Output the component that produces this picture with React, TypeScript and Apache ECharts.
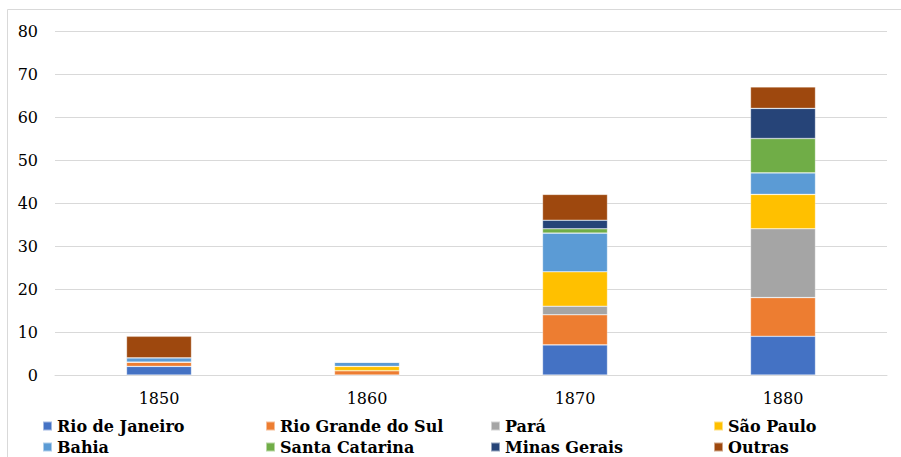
import React, { useEffect, useRef } from "react";
import * as echarts from "echarts";

const categories = ["1850", "1860", "1870", "1880"];
const seriesNames = [
  "Rio de Janeiro",
  "Rio Grande do Sul",
  "Pará",
  "São Paulo",
  "Bahia",
  "Santa Catarina",
  "Minas Gerais",
  "Outras",
];
const rioDeJaneiro = [2, 0, 7, 9];
const rioGrandeDoSul = [1, 1, 7, 9];
const para = [0, 0, 2, 16];
const saoPaulo = [0, 1, 8, 8];
const bahia = [1, 1, 9, 5];
const santaCatarina = [0, 0, 1, 8];
const minasGerais = [0, 0, 2, 7];
const outras = [5, 0, 6, 5];
const yTicks = [0, 10, 20, 30, 40, 50, 60, 70, 80];

const colors = ["#4472C4", "#ED7D31", "#A5A5A5", "#FFC000", "#5B9BD5", "#70AD47", "#264478", "#9E480E"];
const allData = [rioDeJaneiro, rioGrandeDoSul, para, saoPaulo, bahia, santaCatarina, minasGerais, outras];

const FONT = "DejaVu Serif";

export default function App() {
  const ref = useRef<HTMLDivElement>(null);
  useEffect(() => {
    if (!ref.current) return;
    const chart = echarts.init(ref.current, null, { renderer: "svg" });
    const legendCols = [42, 265, 490, 713];
    const legendRows = [416, 437];
    const legends = seriesNames.map((name, i) => ({
      data: [name],
      left: legendCols[i % 4],
      top: legendRows[Math.floor(i / 4)],
      padding: 0,
      icon: "rect",
      itemWidth: 9,
      itemHeight: 9,
      itemGap: 0,
      selectedMode: false,
      textStyle: {
        fontFamily: FONT,
        fontWeight: "bold",
        fontSize: 16,
        color: "#000",
        lineHeight: 20,
      },
    }));
    chart.setOption({
      animation: false,
      color: colors,
      textStyle: { fontFamily: FONT },
      grid: { left: 55, right: 14, top: 31, bottom: 82, containLabel: false },
      legend: legends,
      graphic: [
        {
          type: "rect",
          shape: { x: 7.5, y: 9.5, width: 1000, height: 1000 },
          style: { fill: "none", stroke: "#d9d9d9", lineWidth: 1 },
          silent: true,
        },
      ],
      xAxis: {
        type: "category",
        data: categories,
        axisLine: { show: true, lineStyle: { color: "#d9d9d9", width: 1 } },
        axisTick: { show: false },
        axisLabel: { fontFamily: FONT, fontSize: 16, color: "#000", margin: 15 },
      },
      yAxis: {
        type: "value",
        min: yTicks[0],
        max: yTicks[yTicks.length - 1],
        interval: 10,
        axisLine: { show: false },
        axisTick: { show: false },
        axisLabel: { fontFamily: FONT, fontSize: 16, color: "#000", margin: 17 },
        splitLine: { lineStyle: { color: "#d9d9d9", width: 1 } },
      },
      series: seriesNames.map((name, i) => ({
        name,
        type: "bar",
        stack: "total",
        barWidth: 65,
        data: allData[i],
        itemStyle: { color: colors[i], borderColor: "rgba(255,255,255,0.5)", borderWidth: 0.6 },
      })),
    });
    return () => chart.dispose();
  }, []);
  return (
    <div
      ref={ref}
      style={{ position: "fixed", left: 0, top: 0, width: 901, height: 457, background: "#fff" }}
    />
  );
}
